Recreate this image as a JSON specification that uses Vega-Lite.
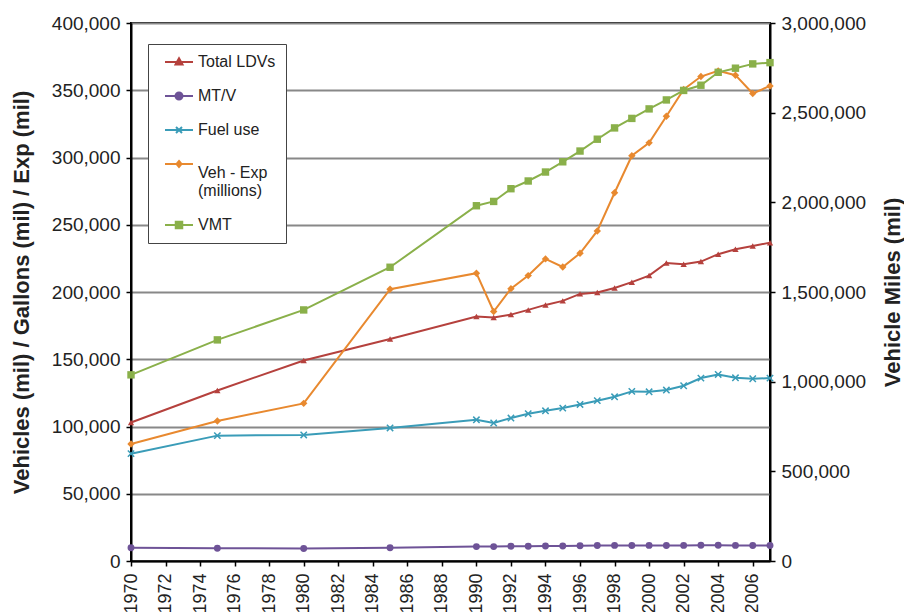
{
  "$schema": "https://vega.github.io/schema/vega-lite/v6.json",
  "width": 639,
  "height": 538,
  "autosize": "none",
  "padding": {"left": 131, "top": 23, "right": 134, "bottom": 51},
  "background": "white",
  "config": {"view": {"stroke": "black", "strokeWidth": 2}, "font": "Liberation Sans"},
  "data": {"values": [
    {"year": 1970, "series": "Total LDVs", "value": 103000},
    {"year": 1975, "series": "Total LDVs", "value": 126800},
    {"year": 1980, "series": "Total LDVs", "value": 149100},
    {"year": 1985, "series": "Total LDVs", "value": 165000},
    {"year": 1990, "series": "Total LDVs", "value": 181700},
    {"year": 1991, "series": "Total LDVs", "value": 181000},
    {"year": 1992, "series": "Total LDVs", "value": 183200},
    {"year": 1993, "series": "Total LDVs", "value": 186700},
    {"year": 1994, "series": "Total LDVs", "value": 190400},
    {"year": 1995, "series": "Total LDVs", "value": 193400},
    {"year": 1996, "series": "Total LDVs", "value": 198600},
    {"year": 1997, "series": "Total LDVs", "value": 199600},
    {"year": 1998, "series": "Total LDVs", "value": 203000},
    {"year": 1999, "series": "Total LDVs", "value": 207300},
    {"year": 2000, "series": "Total LDVs", "value": 212200},
    {"year": 2001, "series": "Total LDVs", "value": 221600},
    {"year": 2002, "series": "Total LDVs", "value": 220600},
    {"year": 2003, "series": "Total LDVs", "value": 222600},
    {"year": 2004, "series": "Total LDVs", "value": 228100},
    {"year": 2005, "series": "Total LDVs", "value": 231800},
    {"year": 2006, "series": "Total LDVs", "value": 234200},
    {"year": 2007, "series": "Total LDVs", "value": 236700},
    {"year": 1970, "series": "MT/V", "value": 9800},
    {"year": 1975, "series": "MT/V", "value": 9500},
    {"year": 1980, "series": "MT/V", "value": 9300},
    {"year": 1985, "series": "MT/V", "value": 9800},
    {"year": 1990, "series": "MT/V", "value": 10700},
    {"year": 1991, "series": "MT/V", "value": 10700},
    {"year": 1992, "series": "MT/V", "value": 11000},
    {"year": 1993, "series": "MT/V", "value": 11000},
    {"year": 1994, "series": "MT/V", "value": 11100},
    {"year": 1995, "series": "MT/V", "value": 11200},
    {"year": 1996, "series": "MT/V", "value": 11300},
    {"year": 1997, "series": "MT/V", "value": 11500},
    {"year": 1998, "series": "MT/V", "value": 11600},
    {"year": 1999, "series": "MT/V", "value": 11500},
    {"year": 2000, "series": "MT/V", "value": 11600},
    {"year": 2001, "series": "MT/V", "value": 11500},
    {"year": 2002, "series": "MT/V", "value": 11600},
    {"year": 2003, "series": "MT/V", "value": 11700},
    {"year": 2004, "series": "MT/V", "value": 11700},
    {"year": 2005, "series": "MT/V", "value": 11600},
    {"year": 2006, "series": "MT/V", "value": 11500},
    {"year": 2007, "series": "MT/V", "value": 11500},
    {"year": 1970, "series": "Fuel use", "value": 79800},
    {"year": 1975, "series": "Fuel use", "value": 93200},
    {"year": 1980, "series": "Fuel use", "value": 93700},
    {"year": 1985, "series": "Fuel use", "value": 98900},
    {"year": 1990, "series": "Fuel use", "value": 105000},
    {"year": 1991, "series": "Fuel use", "value": 102600},
    {"year": 1992, "series": "Fuel use", "value": 106300},
    {"year": 1993, "series": "Fuel use", "value": 109500},
    {"year": 1994, "series": "Fuel use", "value": 111700},
    {"year": 1995, "series": "Fuel use", "value": 113700},
    {"year": 1996, "series": "Fuel use", "value": 116400},
    {"year": 1997, "series": "Fuel use", "value": 119200},
    {"year": 1998, "series": "Fuel use", "value": 122100},
    {"year": 1999, "series": "Fuel use", "value": 126100},
    {"year": 2000, "series": "Fuel use", "value": 125800},
    {"year": 2001, "series": "Fuel use", "value": 127100},
    {"year": 2002, "series": "Fuel use", "value": 130300},
    {"year": 2003, "series": "Fuel use", "value": 136000},
    {"year": 2004, "series": "Fuel use", "value": 138700},
    {"year": 2005, "series": "Fuel use", "value": 136200},
    {"year": 2006, "series": "Fuel use", "value": 135500},
    {"year": 2007, "series": "Fuel use", "value": 136000},
    {"year": 1970, "series": "Veh - Exp (millions)", "value": 87000},
    {"year": 1975, "series": "Veh - Exp (millions)", "value": 104100},
    {"year": 1980, "series": "Veh - Exp (millions)", "value": 117200},
    {"year": 1985, "series": "Veh - Exp (millions)", "value": 202100},
    {"year": 1990, "series": "Veh - Exp (millions)", "value": 214000},
    {"year": 1991, "series": "Veh - Exp (millions)", "value": 185500},
    {"year": 1992, "series": "Veh - Exp (millions)", "value": 202500},
    {"year": 1993, "series": "Veh - Exp (millions)", "value": 212200},
    {"year": 1994, "series": "Veh - Exp (millions)", "value": 224600},
    {"year": 1995, "series": "Veh - Exp (millions)", "value": 218600},
    {"year": 1996, "series": "Veh - Exp (millions)", "value": 228800},
    {"year": 1997, "series": "Veh - Exp (millions)", "value": 245400},
    {"year": 1998, "series": "Veh - Exp (millions)", "value": 273800},
    {"year": 1999, "series": "Veh - Exp (millions)", "value": 301300},
    {"year": 2000, "series": "Veh - Exp (millions)", "value": 310900},
    {"year": 2001, "series": "Veh - Exp (millions)", "value": 330700},
    {"year": 2002, "series": "Veh - Exp (millions)", "value": 350600},
    {"year": 2003, "series": "Veh - Exp (millions)", "value": 360200},
    {"year": 2004, "series": "Veh - Exp (millions)", "value": 364400},
    {"year": 2005, "series": "Veh - Exp (millions)", "value": 361200},
    {"year": 2006, "series": "Veh - Exp (millions)", "value": 347600},
    {"year": 2007, "series": "Veh - Exp (millions)", "value": 353200},
    {"year": 1970, "series": "VMT", "value": 1038000},
    {"year": 1975, "series": "VMT", "value": 1233000},
    {"year": 1980, "series": "VMT", "value": 1400000},
    {"year": 1985, "series": "VMT", "value": 1638000},
    {"year": 1990, "series": "VMT", "value": 1981000},
    {"year": 1991, "series": "VMT", "value": 2005000},
    {"year": 1992, "series": "VMT", "value": 2076000},
    {"year": 1993, "series": "VMT", "value": 2119000},
    {"year": 1994, "series": "VMT", "value": 2169000},
    {"year": 1995, "series": "VMT", "value": 2226000},
    {"year": 1996, "series": "VMT", "value": 2286000},
    {"year": 1997, "series": "VMT", "value": 2352000},
    {"year": 1998, "series": "VMT", "value": 2415000},
    {"year": 1999, "series": "VMT", "value": 2468000},
    {"year": 2000, "series": "VMT", "value": 2521000},
    {"year": 2001, "series": "VMT", "value": 2571000},
    {"year": 2002, "series": "VMT", "value": 2624000},
    {"year": 2003, "series": "VMT", "value": 2653000},
    {"year": 2004, "series": "VMT", "value": 2725000},
    {"year": 2005, "series": "VMT", "value": 2748000},
    {"year": 2006, "series": "VMT", "value": 2772000},
    {"year": 2007, "series": "VMT", "value": 2779000}
  ]},
  "encoding": {
    "x": {
      "field": "year", "type": "quantitative",
      "scale": {"domain": [1970, 2007], "nice": false, "zero": false},
      "axis": {
        "values": [1970, 1972, 1974, 1976, 1978, 1980, 1982, 1984, 1986, 1988, 1990, 1992, 1994, 1996, 1998, 2000, 2002, 2004, 2006],
        "format": "d", "labelAngle": -90, "labelFontSize": 18, "labelColor": "#222",
        "labelPadding": 7, "title": null, "grid": false,
        "domainColor": "black", "domainWidth": 2, "tickColor": "black", "tickWidth": 1.5, "tickSize": 5
      }
    },
    "color": {
      "field": "series", "type": "nominal",
      "scale": {
        "domain": ["Total LDVs", "MT/V", "Fuel use", "Veh - Exp (millions)", "VMT"],
        "range": ["#B5413D", "#6E5397", "#3A9CB8", "#E8892F", "#8AB04A"]
      },
      "legend": {
        "orient": "none", "legendX": 17, "legendY": 21, "title": null,
        "fillColor": "white", "strokeColor": "#444", "padding": 10,
        "labelFontSize": 16, "labelColor": "#222",
        "symbolSize": 100, "symbolStrokeWidth": 2, "symbolOffset": 13, "labelOffset": 11,
        "rowPadding": 18, "clipHeight": 16,
        "labelExpr": "datum.label == 'Veh - Exp (millions)' ? ['Veh - Exp', '(millions)'] : datum.label",
        "encode": {
          "symbols": {"update": {
            "shape": {"signal": "datum.value == 'Total LDVs' ? 'M-2.8,0H2.8M0,-0.75L0.7,0.5H-0.7Z' : datum.value == 'MT/V' ? 'M-2.8,0H2.8M-0.7,0A0.7,0.7 0 1,0 0.7,0A0.7,0.7 0 1,0 -0.7,0Z' : datum.value == 'Fuel use' ? 'M-2.8,0H2.8M-0.6,-0.6L0.6,0.6M-0.6,0.6L0.6,-0.6' : datum.value == 'VMT' ? 'M-2.8,0H2.8M-0.65,-0.65H0.65V0.65H-0.65Z' : 'M-2.8,0H2.8M0,-0.6L0.5,0L0,0.6L-0.5,0Z'"},
            "fill": {"scale": "color", "field": "value"},
            "stroke": {"scale": "color", "field": "value"},
            "strokeWidth": {"value": 2},
            "opacity": {"value": 1}
          }},
          "labels": {"update": {"dy": {"signal": "datum.value == 'Veh - Exp (millions)' ? 9 : 0"}}}
        }
      }
    }
  },
  "layer": [
    {
      "transform": [{"filter": "datum.series != 'VMT'"}],
      "encoding": {
        "y": {
          "field": "value", "type": "quantitative",
          "scale": {"domain": [0, 400000], "nice": false},
          "axis": {
            "orient": "left",
            "values": [0, 50000, 100000, 150000, 200000, 250000, 300000, 350000, 400000],
            "format": ",d", "labelFontSize": 19, "labelColor": "#222", "labelPadding": 6,
            "title": "Vehicles (mil) / Gallons (mil) / Exp (mil)",
            "titleFontSize": 22, "titleFontWeight": "bold", "titleColor": "#222", "titlePadding": 18,
            "grid": true, "gridColor": "#888", "gridWidth": 2,
            "domainColor": "black", "domainWidth": 2, "tickColor": "black", "tickWidth": 1.5, "tickSize": 5
          }
        }
      },
      "layer": [
        {"mark": {"type": "line", "strokeWidth": 2}},
        {
          "transform": [{"filter": "datum.series != 'Fuel use'"}],
          "mark": {"type": "point", "filled": true, "opacity": 1},
          "encoding": {
            "shape": {"field": "series", "type": "nominal", "legend": null,
              "scale": {"domain": ["Total LDVs", "MT/V", "Veh - Exp (millions)"], "range": ["triangle-up", "circle", "diamond"]}},
            "size": {"field": "series", "type": "nominal", "legend": null,
              "scale": {"domain": ["Total LDVs", "MT/V", "Veh - Exp (millions)"], "range": [40, 55, 30]}}
          }
        },
        {
          "transform": [{"filter": "datum.series == 'Fuel use'"}],
          "mark": {"type": "point", "shape": "M-1,-1L1,1M-1,1L1,-1", "filled": false, "size": 40, "strokeWidth": 1.5, "opacity": 1}
        }
      ]
    },
    {
      "transform": [{"filter": "datum.series == 'VMT'"}],
      "encoding": {
        "y": {
          "field": "value", "type": "quantitative",
          "scale": {"domain": [0, 3000000], "nice": false},
          "axis": {
            "orient": "right",
            "values": [0, 500000, 1000000, 1500000, 2000000, 2500000, 3000000],
            "format": ",d", "labelFontSize": 19, "labelColor": "#222", "labelPadding": 6,
            "title": "Vehicle Miles (mil)", "titleAngle": 270,
            "titleFontSize": 22, "titleFontWeight": "bold", "titleColor": "#222", "titlePadding": 39,
            "grid": false,
            "domainColor": "black", "domainWidth": 2, "tickColor": "black", "tickWidth": 1.5, "tickSize": 5
          }
        }
      },
      "layer": [
        {"mark": {"type": "line", "strokeWidth": 2}},
        {"mark": {"type": "point", "shape": "square", "filled": true, "size": 55, "opacity": 1}}
      ]
    }
  ],
  "resolve": {"scale": {"y": "independent"}}
}
